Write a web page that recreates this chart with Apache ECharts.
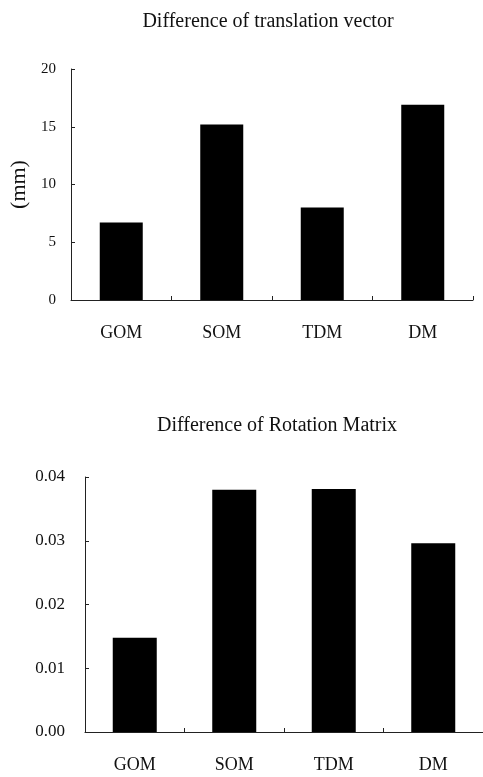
<!DOCTYPE html>
<html>
<head>
<meta charset="utf-8">
<script src="https://cdn.jsdelivr.net/npm/echarts@6/dist/echarts.min.js"></script>
<style>
  html, body { margin: 0; padding: 0; background: #fff; }
  #main { width: 483px; height: 777px; }
</style>
</head>
<body>
<div id="main"></div>
<script>
// data
const methods = ['GOM', 'SOM', 'TDM', 'DM']
const translationDiff = [6.7, 15.2, 8.0, 16.9]   // mm
const rotationDiff = [0.0148, 0.0380, 0.0381, 0.0296]
const translationTicks = [0, 20, 5]      // min, max, step
const rotationTicks = [0, 0.04, 0.01]

const font = "'Liberation Serif', 'Times New Roman', serif"
const ink = '#111'

const chart = echarts.init(document.getElementById('main'))

function axisLine() {
  return { show: true, lineStyle: { color: '#222', width: 1 } }
}

chart.setOption({
  animation: false,
  backgroundColor: '#fff',
  title: [
    {
      text: 'Difference of translation vector',
      left: 263, top: 7, textAlign: 'center',
      textStyle: { fontFamily: font, fontSize: 20, fontWeight: 'normal', color: ink }
    },
    {
      text: 'Difference of Rotation Matrix',
      left: 272, top: 411, textAlign: 'center',
      textStyle: { fontFamily: font, fontSize: 20, fontWeight: 'normal', color: ink }
    }
  ],
  grid: [
    { left: 71, top: 69, width: 402, height: 231 },
    { left: 85, top: 477, width: 408, height: 255 }
  ],
  xAxis: [
    {
      gridIndex: 0, type: 'category', data: methods,
      axisLine: axisLine(),
      axisTick: { show: true, inside: true, length: 4, lineStyle: { color: '#222' } },
      axisLabel: { fontFamily: font, fontSize: 18, color: ink, margin: 24 }
    },
    {
      gridIndex: 1, type: 'category', data: methods,
      axisLine: axisLine(),
      axisTick: { show: true, inside: true, length: 4, lineStyle: { color: '#222' } },
      axisLabel: { fontFamily: font, fontSize: 18, color: ink, margin: 24 }
    }
  ],
  yAxis: [
    {
      gridIndex: 0, type: 'value',
      min: translationTicks[0], max: translationTicks[1], interval: translationTicks[2],
      name: '(mm)', nameLocation: 'middle', nameRotate: 90, nameGap: 39,
      nameTextStyle: { fontFamily: font, fontSize: 22, color: ink },
      axisLine: axisLine(),
      axisTick: { show: true, inside: true, length: 4, lineStyle: { color: '#222' } },
      splitLine: { show: false },
      axisLabel: { fontFamily: font, fontSize: 15, color: ink, margin: 15, padding: [6, 0, 0, 0] }
    },
    {
      gridIndex: 1, type: 'value',
      min: rotationTicks[0], max: rotationTicks[1], interval: rotationTicks[2],
      axisLine: axisLine(),
      axisTick: { show: true, inside: true, length: 4, lineStyle: { color: '#222' } },
      splitLine: { show: false },
      axisLabel: {
        fontFamily: font, fontSize: 17, color: ink, margin: 20, padding: [3, 0, 0, 0],
        formatter: v => v.toFixed(2)
      }
    }
  ],
  series: [
    {
      type: 'bar', xAxisIndex: 0, yAxisIndex: 0,
      data: translationDiff, barWidth: 43,
      itemStyle: { color: '#000' }
    },
    {
      type: 'bar', xAxisIndex: 1, yAxisIndex: 1,
      data: rotationDiff, barWidth: 44,
      itemStyle: { color: '#000' }
    }
  ]
})
</script>
</body>
</html>
